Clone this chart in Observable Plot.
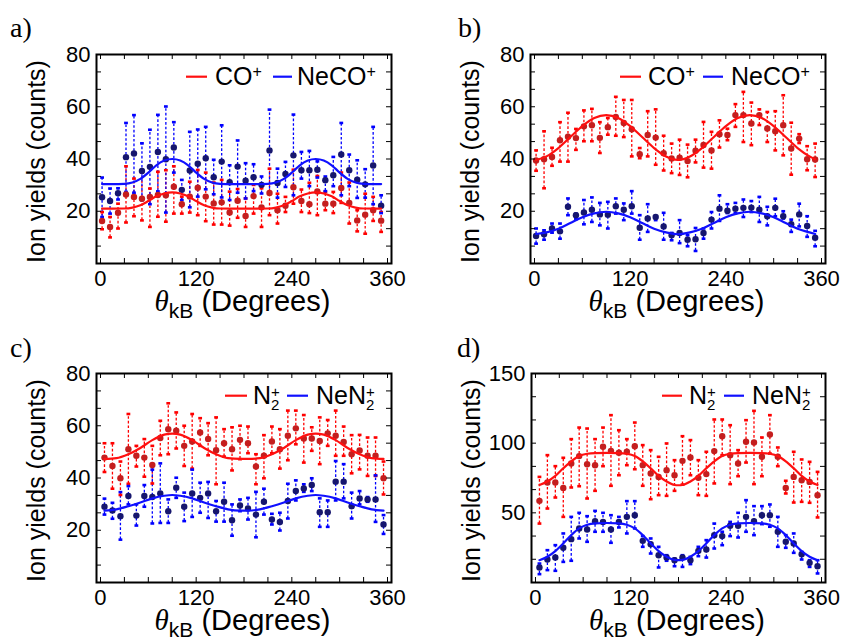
<!DOCTYPE html>
<html><head><meta charset="utf-8">
<script src="https://cdn.jsdelivr.net/npm/d3@7"></script>
<script src="https://cdn.jsdelivr.net/npm/@observablehq/plot@0.6"></script>
<style>
body{margin:0;background:#fff;}
#fig{position:relative;width:845px;height:638px;overflow:hidden;background:#fff;}
.panel{position:absolute;}
</style></head><body><div id="fig"></div>
<script>
// ---------- data ----------
const angAB = [2,12,22,32,42,52,62,72,82,92,102,112,122,132,142,152,162,172,182,192,202,212,222,232,242,252,262,272,282,292,302,312,322,332,342,352];
const angCD = [5,15,25,35,45,55,65,75,85,95,105,115,125,135,145,155,165,175,185,195,205,215,225,235,245,255,265,275,285,295,305,315,325,335,345,355];

// panel a : CO+ (red), NeCO+ (blue)
const aRed   = [16.3,14.0,19.4,26.4,25.5,24.8,25.5,26.2,26.1,29.4,22.7,25.6,29.0,25.6,23.0,23.4,19.5,24.0,18.2,25.8,21.5,27.0,20.4,22.1,29.2,23.9,22.7,27.6,22.9,22.9,28.9,23.2,16.5,18.7,20.4,16.4];
const aRedHi = [19.7,17.8,22.9,37.2,32.5,34.8,28.7,35.1,35.7,37.2,25.6,31.3,35.8,34.8,31.0,32.0,27.5,28.5,24.9,30.1,28.8,36.3,26.7,25.5,35.9,28.3,30.9,33.5,27.4,27.4,34.8,31.0,20.4,26.7,25.5,19.7];
const aRedLo = [13.1,10.0,13.4,15.7,18.1,16.5,14.0,17.9,16.0,19.1,19.1,19.5,18.5,16.2,14.9,14.9,14.5,17.5,14.0,19.1,14.0,18.5,15.3,19.7,22.9,19.7,19.3,18.5,20.4,19.3,23.2,15.3,12.3,11.4,16.3,12.1];
const aBlue   = [25.4,23.9,26.9,40.7,42.1,35.4,37.0,42.7,39.9,44.4,28.2,35.6,38.2,40.3,33.0,39.0,31.1,37.1,31.7,33.0,30.1,43.3,30.8,34.3,41.4,35.7,35.7,35.9,31.9,33.8,41.7,35.7,32.1,30.3,37.5,22.1];
const aBlueHi = [32.9,28.7,28.8,53.8,56.8,46.0,51.2,56.9,60.1,54.1,32.0,50.4,51.3,52.3,39.7,52.9,37.6,47.1,38.4,38.0,33.3,58.9,36.3,38.9,57.0,42.7,43.1,39.1,33.3,40.8,53.8,41.7,39.5,36.1,52.3,26.1];
const aBlueLo = [17.8,19.1,24.5,27.4,27.1,24.2,22.7,27.6,19.5,34.8,24.3,21.5,25.6,28.4,26.5,25.3,24.3,27.1,24.9,27.7,26.8,26.7,25.2,29.3,26.1,32.5,29.6,32.9,27.7,29.6,26.1,29.6,25.1,25.2,22.7,19.3];
const aFitAng  = [2,15,30,40,50,60,70,80,90,100,110,120,130,140,150,165,180,195,210,220,230,240,250,260,270,280,290,300,310,320,330,345,352];
const aFitRed  = [21.0,21.0,21.05,21.4,22.3,23.9,25.7,26.8,27.2,26.8,25.7,23.9,22.3,21.4,21.05,21.0,21.0,21.0,21.05,21.4,22.3,23.9,25.7,26.8,27.2,26.8,25.7,23.9,22.3,21.4,21.05,21.0,21.0];
const aFitBlue = [30.4,30.4,30.5,31.0,32.4,34.8,37.6,39.4,40.0,39.4,37.6,34.8,32.4,31.0,30.5,30.4,30.4,30.4,30.5,31.0,32.4,34.8,37.6,39.4,40.0,39.4,37.6,34.8,32.4,31.0,30.5,30.4,30.4];

// panel b : CO+ (red), NeCO+ (blue)
const bRed   = [39.4,39.9,40.8,47.2,48.5,48.0,52.5,52.9,48.1,52.2,56.1,53.8,51.4,41.8,49.2,48.2,42.2,40.2,40.5,39.2,43.2,45.4,43.3,49.5,49.2,56.8,56.8,53.6,56.8,51.7,50.6,52.9,44.0,47.8,39.9,39.8];
const bRedHi = [43.3,50.6,44.3,54.1,57.7,51.5,58.6,59.2,54.1,55.7,63.8,62.6,62.6,44.2,58.3,59.0,48.9,45.9,47.4,45.5,47.4,54.2,50.4,54.8,51.6,61.0,65.7,61.6,59.0,58.0,58.3,64.4,53.9,49.5,44.9,45.9];
const bRedLo = [35.5,28.8,37.4,39.0,39.0,43.5,46.8,46.8,42.3,49.3,48.9,48.4,41.0,40.3,41.0,37.8,35.6,34.6,33.9,33.0,38.7,36.7,36.3,44.4,47.2,52.3,46.5,45.3,53.0,46.5,43.3,41.4,34.0,46.1,35.7,33.1];
const bBlue   = [10.5,11.2,13.4,12.3,21.7,18.5,19.5,20.6,18.8,18.7,21.9,20.6,21.9,13.7,17.2,17.8,14.2,10.8,11.7,9.1,9.3,11.7,16.8,21.0,20.2,21.0,21.3,21.4,20.6,18.1,21.3,18.1,15.0,18.8,14.4,9.9];
const bBlueHi = [13.4,12.7,15.3,15.3,24.9,19.1,24.3,25.3,23.2,23.6,24.9,23.0,27.7,18.5,22.7,18.1,19.4,11.7,16.6,10.8,13.6,13.4,19.7,26.1,22.7,23.2,24.5,23.9,25.5,21.7,24.8,20.0,16.8,22.9,18.1,12.5];
const bBlueLo = [7.6,9.1,11.8,9.5,18.5,17.0,15.0,15.9,14.6,13.4,19.1,16.6,19.1,9.1,12.1,16.6,9.1,8.9,7.8,6.6,4.8,9.5,13.4,16.3,19.3,19.3,17.8,19.7,15.9,14.6,18.1,17.2,12.1,14.2,10.2,6.6];
const bFitAng  = [2,15,30,45,60,75,90,105,120,135,150,165,180,195,210,225,240,255,270,285,300,315,330,345,352];
const bFitRed  = [39.6,41.0,44.2,48.4,52.6,55.7,56.8,55.7,52.6,48.4,44.2,41.0,39.7,41.0,44.2,48.4,52.6,55.7,56.8,55.7,52.6,48.4,44.2,41.0,39.9];
const bFitBlue = [11.3,11.9,13.3,15.5,17.7,19.2,19.8,19.2,17.7,15.5,13.3,11.9,11.2,11.9,13.3,15.5,17.7,19.2,19.8,19.2,17.7,15.5,13.3,11.9,11.3];

// panel c : N2+ (red), NeN2+ (blue)
const cRed   = [47.8,44.6,39.9,51.0,48.5,47.8,45.0,55.3,58.7,58.1,52.3,54.0,57.4,54.9,50.6,53.3,51.0,54.6,53.3,44.4,48.5,54.0,51.0,56.2,59.0,55.1,55.1,54.2,57.1,56.2,53.8,49.1,50.5,48.5,48.5,39.9];
const cRedHi = [53.3,53.3,46.3,64.5,52.3,54.9,52.3,61.9,68.6,65.1,60.0,64.5,62.9,61.0,63.2,58.7,59.4,60.0,59.7,49.1,56.4,59.7,58.7,65.8,65.8,64.1,59.4,63.2,62.2,65.8,59.7,56.4,56.5,55.5,55.5,46.3];
const cRedLo = [42.3,35.9,33.5,37.8,44.4,40.5,37.9,48.7,49.1,51.3,44.6,43.6,52.3,48.7,37.6,48.2,42.9,47.2,49.5,37.6,39.9,49.5,43.6,46.8,52.9,45.9,50.4,45.3,52.3,48.5,48.5,41.8,43.3,40.8,40.8,33.7];
const cBlue   = [29.0,27.6,25.4,33.1,25.6,33.1,32.7,34.1,27.3,36.3,29.0,34.1,32.4,34.1,27.3,30.9,23.8,29.5,28.3,26.0,30.9,24.1,23.2,31.2,35.0,36.0,37.3,26.9,26.9,38.6,38.6,29.2,32.2,31.8,31.8,22.2];
const cBlueHi = [32.1,30.5,34.6,36.9,29.9,37.3,43.2,45.6,31.8,40.1,34.4,43.2,38.2,38.5,31.2,38.2,29.9,31.8,32.4,34.7,35.9,26.3,26.7,37.8,39.1,37.6,39.9,32.2,31.4,46.5,45.3,34.4,35.0,32.7,41.0,25.8];
const cBlueLo = [26.0,24.4,16.4,29.9,21.8,29.0,22.6,22.8,22.8,32.4,23.5,25.1,26.7,24.7,23.3,23.3,17.9,27.3,24.1,17.3,26.0,22.2,19.9,24.5,31.4,34.7,35.0,21.3,21.3,31.4,32.2,24.5,29.9,30.9,23.2,18.6];
const cFitAng  = [5,20,35,50,65,80,90,100,115,130,145,160,175,185,200,215,230,245,260,270,280,295,310,325,340,355];
const cFitRed  = [47.3,47.6,49.1,51.5,54.5,56.6,57.0,56.6,54.5,51.5,49.1,47.6,47.3,47.3,47.6,49.1,51.5,54.5,56.6,57.0,56.6,54.5,51.5,49.1,47.6,47.3];
const cFitBlue = [27.5,28.0,29.2,30.6,32.2,33.2,33.5,33.2,32.2,30.6,29.2,28.0,27.5,27.5,28.0,29.2,30.6,32.2,33.2,33.5,33.2,32.2,30.6,29.2,28.0,27.5];

// panel d : N2+ (red), NeN2+ (blue)
const dRed   = [58.6,71.8,71.8,67.9,85.4,90.7,84.9,84.2,97.4,94.5,93.1,93.8,97.8,84.2,78.2,75.8,80.6,77.0,87.3,89.7,75.1,77.8,94.3,105.0,91.4,85.4,101.0,100.5,90.2,106.2,90.2,67.9,75.8,73.4,72.2,62.7];
const dRedHi = [75.8,91.4,83.5,89.5,102.9,111.2,110.5,102.9,111.2,120.1,109.3,102.9,114.8,98.6,95.0,90.2,99.8,87.8,105.0,102.2,87.8,93.8,117.0,117.0,112.9,95.0,116.5,123.2,104.1,120.1,96.9,73.0,93.8,88.3,86.6,79.4];
const dRedLo = [42.3,53.1,61.0,47.1,68.2,69.1,60.3,65.8,83.5,69.4,77.0,84.2,81.3,69.4,59.8,62.7,62.2,65.8,70.3,77.0,62.7,62.2,71.1,91.4,70.6,76.3,86.1,70.6,76.3,92.6,83.5,63.9,57.4,57.9,57.2,46.7];
const dBlue   = [10.8,16.5,17.9,24.9,31.1,38.8,38.0,44.0,43.5,38.0,43.5,47.1,48.3,29.9,27.5,19.6,17.9,16.0,17.9,16.0,22.7,23.7,34.0,33.3,40.7,40.7,47.1,44.0,48.3,48.3,36.4,29.2,28.0,20.3,14.1,11.7];
const dBlueHi = [13.6,23.2,26.8,35.2,47.1,50.0,47.6,51.4,50.0,48.3,47.1,58.4,58.4,33.3,31.6,25.6,19.6,17.2,19.6,18.4,25.6,30.4,42.3,36.4,43.5,50.0,59.1,54.8,54.8,56.0,47.1,34.0,35.2,22.0,16.0,16.0];
const dBlueLo = [6.0,8.9,8.4,14.8,15.6,31.6,29.2,36.4,36.4,28.5,39.5,35.2,38.8,25.6,20.8,10.8,15.6,11.7,11.2,13.2,18.9,17.9,24.4,26.8,33.3,32.3,36.4,34.0,41.9,40.0,25.6,24.9,21.3,16.5,11.2,6.5];
const dFitAng  = [5,15,25,35,45,55,65,75,90,105,115,125,135,145,155,165,175,180,185,195,205,215,225,235,245,255,270,285,295,305,315,325,335,345,355];
const dFitRed  = [70,72.5,76.5,82,87,90.8,92.4,92.9,93,92.9,92.4,90.8,87,82,76.5,72.5,70,69.8,70,72.5,76.5,82,87,90.8,92.4,92.9,93,92.9,92.4,90.8,87,82,76.5,72.5,70];
const dFitBlue = [16,18.5,22.5,28,34,38.8,41.5,42.5,42.7,42.5,41.5,38.8,34,28,22.5,18.5,16.2,16,16.2,18.5,22.5,28,34,38.8,41.5,42.5,42.7,42.5,41.5,38.8,34,28,22.5,18.5,16];

// tick labels
const xTickLabels = [0, 120, 240, 360];
const yTickLabelsABC = [20, 40, 60, 80];
const yTickLabelsD = [50, 100, 150];

// ---------- drawing ----------
const SANS = "'Liberation Sans', Arial, Helvetica, sans-serif";
const SERIF = "'Liberation Serif', 'Times New Roman', serif";
const RED = "#ff1010", BLUE = "#1010ff";
const ERR_RED = "#ff0000", ERR_BLUE = "#0000ff";
const DOT_RED = "#c41e1e", DOT_BLUE = "#16166e";

const capSymbol = {draw(ctx) { const w = 1.9, h = 1.3; ctx.moveTo(-w, -h); ctx.lineTo(w, -h); ctx.lineTo(w, h); ctx.lineTo(-w, h); ctx.closePath(); }};

const specs = [
  {left:0, top:0, width:420, height:320, ml:96, mr:29, mt:54, mb:57, label:"a)", labelX:10,
   ymax:80, yStep:20/3, yLabels:yTickLabelsABC, ang:angAB,
   red:[aRed,aRedLo,aRedHi], blue:[aBlue,aBlueLo,aBlueHi], fit:[aFitAng,aFitRed,aFitBlue],
   names:["CO","NeCO"], stacked:false, leg:{rl:[90,111], rt:119, bl:[177,196], bt:201}},
  {left:420, top:0, width:425, height:320, ml:110, mr:20, mt:54, mb:57, label:"b)", labelX:38,
   ymax:80, yStep:20/3, yLabels:yTickLabelsABC, ang:angAB,
   red:[bRed,bRedLo,bRedHi], blue:[bBlue,bBlueLo,bBlueHi], fit:[bFitAng,bFitRed,bFitBlue],
   names:["CO","NeCO"], stacked:false, leg:{rl:[90,111], rt:118, bl:[173,193], bt:201}},
  {left:0, top:320, width:420, height:318, ml:96, mr:29, mt:53, mb:56, label:"c)", labelX:10,
   ymax:80, yStep:20/3, yLabels:yTickLabelsABC, ang:angCD,
   red:[cRed,cRedLo,cRedHi], blue:[cBlue,cBlueLo,cBlueHi], fit:[cFitAng,cFitRed,cFitBlue],
   names:["N","NeN"], stacked:true, leg:{rl:[129,151], rt:157, bl:[191,212], bt:220}},
  {left:420, top:320, width:425, height:318, ml:111, mr:20, mt:53, mb:56, label:"d)", labelX:37,
   ymax:150, yStep:50/3, yLabels:yTickLabelsD, ang:angCD,
   red:[dRed,dRedLo,dRedHi], blue:[dBlue,dBlueLo,dBlueHi], fit:[dFitAng,dFitRed,dFitBlue],
   names:["N","NeN"], stacked:true, leg:{rl:[131,151], rt:158, bl:[193,213], bt:221}},
];

function addSpecies(g, x, y, base, stacked) {
  const t = g.append("text").attr("x", x).attr("y", y).attr("text-anchor", "start")
    .attr("font-family", SANS).attr("font-size", 25).attr("fill", "black");
  t.append("tspan").text(base);
  if (stacked) {
    t.append("tspan").attr("font-size", 15).attr("dy", -7).text("+");
    t.append("tspan").attr("font-size", 15).attr("dx", -8.8).attr("dy", 13).text("2");
  } else {
    t.append("tspan").attr("font-size", 16).attr("dy", -8).text("+");
  }
}

const fig = document.getElementById("fig");
for (const s of specs) {
  const fw = s.width - s.ml - s.mr, fh = s.height - s.mt - s.mb;
  const rows = (arr) => s.ang.map((a, i) => ({a, y: arr[0][i], lo: arr[1][i], hi: arr[2][i]}));
  const red = rows(s.red), blue = rows(s.blue);
  const fitR = s.fit[0].map((a, i) => ({a, v: s.fit[1][i]}));
  const fitB = s.fit[0].map((a, i) => ({a, v: s.fit[2][i]}));
  const xMinor = d3.range(0, 361, 30);
  const yMinor = d3.range(0, s.ymax + 0.01, s.yStep);
  const tl = 5;
  const svg = Plot.plot({
    width: s.width, height: s.height,
    marginLeft: s.ml, marginRight: s.mr, marginTop: s.mt, marginBottom: s.mb,
    x: {domain: [-5, 365], axis: null},
    y: {domain: [0, s.ymax], axis: null},
    style: {fontFamily: SANS, background: "white", overflow: "visible"},
    marks: [
      Plot.ruleX(red, {x: "a", y1: "lo", y2: "hi", stroke: ERR_RED, strokeWidth: 1.3, strokeDasharray: "2.6,2"}),
      Plot.ruleX(blue, {x: "a", y1: "lo", y2: "hi", stroke: ERR_BLUE, strokeWidth: 1.3, strokeDasharray: "2.6,2"}),
      Plot.dot(red, {x: "a", y: "lo", symbol: capSymbol, fill: ERR_RED, stroke: null, r: 2}),
      Plot.dot(red, {x: "a", y: "hi", symbol: capSymbol, fill: ERR_RED, stroke: null, r: 2}),
      Plot.dot(blue, {x: "a", y: "lo", symbol: capSymbol, fill: ERR_BLUE, stroke: null, r: 2}),
      Plot.dot(blue, {x: "a", y: "hi", symbol: capSymbol, fill: ERR_BLUE, stroke: null, r: 2}),
      Plot.dot(red, {x: "a", y: "y", r: 3.2, fill: DOT_RED, stroke: null}),
      Plot.dot(blue, {x: "a", y: "y", r: 3.2, fill: DOT_BLUE, stroke: null}),
      Plot.line(fitR, {x: "a", y: "v", stroke: RED, strokeWidth: 2.2, curve: "monotone-x"}),
      Plot.line(fitB, {x: "a", y: "v", stroke: BLUE, strokeWidth: 2.2, curve: "monotone-x"}),
      Plot.tickX(xMinor, {x: d => d, insetTop: fh - tl, stroke: "black", strokeWidth: 1}),
      Plot.tickX(xMinor, {x: d => d, insetBottom: fh - tl, stroke: "black", strokeWidth: 1}),
      Plot.tickY(yMinor, {y: d => d, insetRight: fw - tl, stroke: "black", strokeWidth: 1}),
      Plot.tickY(yMinor, {y: d => d, insetLeft: fw - tl, stroke: "black", strokeWidth: 1}),
      Plot.frame({stroke: "black", strokeWidth: 2}),
      Plot.text(xTickLabels, {x: d => d, text: d => String(d), frameAnchor: "bottom", lineAnchor: "top", dy: 7, fontSize: 22, fill: "black"}),
      Plot.text(s.yLabels, {y: d => d, text: d => String(d), frameAnchor: "left", textAnchor: "end", dx: -6, fontSize: 22, fill: "black"}),
    ]
  });
  const div = document.createElement("div");
  div.className = "panel";
  div.style.left = s.left + "px"; div.style.top = s.top + "px";
  div.style.width = s.width + "px"; div.style.height = s.height + "px";
  div.appendChild(svg);
  fig.appendChild(div);

  const g = d3.select(svg).append("g").attr("text-anchor", "start");
  const fl = s.ml, ft = s.mt, fb = s.height - s.mb;
  // panel letter
  g.append("text").attr("x", s.labelX).attr("y", 37).attr("text-anchor", "start")
    .attr("font-family", SERIF).attr("font-size", 28).attr("fill", "black").text(s.label);
  // y label
  g.append("text").attr("transform", `translate(${fl - 51},${(ft + fb) / 2 + 3}) rotate(-90)`)
    .attr("text-anchor", "middle").attr("font-family", SANS).attr("font-size", 25).attr("fill", "black").text("Ion yields (counts)");
  // x label
  const xl = g.append("text").attr("x", fl + fw / 2 - 1).attr("y", fb + 48).attr("text-anchor", "middle")
    .attr("font-family", SANS).attr("font-size", 29).attr("fill", "black");
  xl.append("tspan").attr("font-family", SERIF).attr("font-style", "italic").text("θ");
  xl.append("tspan").attr("font-size", 21).attr("dy", 7).text("kB");
  xl.append("tspan").attr("dy", -7).text(" (Degrees)");
  // legend
  const ly = ft + 22.7, lb = ft + 31;
  g.append("line").attr("x1", fl + s.leg.rl[0]).attr("x2", fl + s.leg.rl[1]).attr("y1", ly).attr("y2", ly).attr("stroke", RED).attr("stroke-width", 2.2);
  addSpecies(g, fl + s.leg.rt, lb, s.names[0], s.stacked);
  g.append("line").attr("x1", fl + s.leg.bl[0]).attr("x2", fl + s.leg.bl[1]).attr("y1", ly).attr("y2", ly).attr("stroke", BLUE).attr("stroke-width", 2.2);
  addSpecies(g, fl + s.leg.bt, lb, s.names[1], s.stacked);
}
</script></body></html>
